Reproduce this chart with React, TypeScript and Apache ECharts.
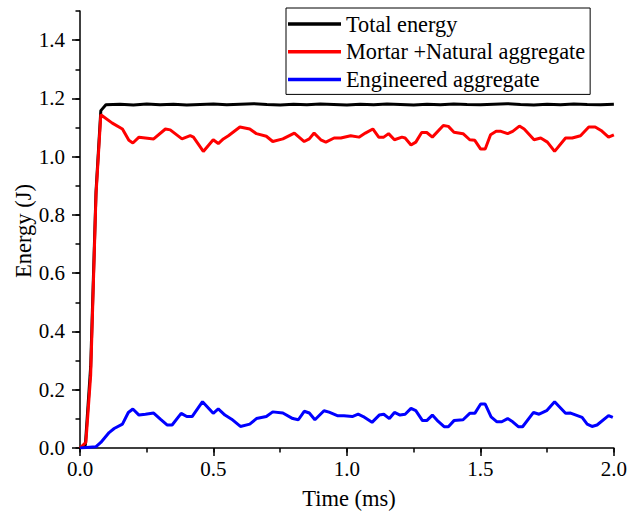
import React, { useEffect, useRef } from "react";
import * as echarts from "echarts";

const seriesNames = ["Total energy", "Mortar +Natural aggregate", "Engineered aggregate"];
const seriesColors = ["#000000", "#ff0000", "#0000ff"];

const totalTime = [0, 0.02, 0.04, 0.06, 0.078, 0.097, 0.15, 0.2, 0.25, 0.3, 0.35, 0.4, 0.45, 0.5, 0.55, 0.6, 0.65, 0.7, 0.75, 0.8, 0.85, 0.9, 0.95, 1.0, 1.05, 1.1, 1.15, 1.2, 1.25, 1.3, 1.35, 1.4, 1.45, 1.5, 1.55, 1.6, 1.65, 1.7, 1.75, 1.8, 1.85, 1.9, 1.95, 2.0];
const totalEnergy = [0, 0.01, 0.28, 0.88, 1.158, 1.178, 1.18, 1.177, 1.181, 1.178, 1.18, 1.177, 1.179, 1.181, 1.178, 1.18, 1.182, 1.179, 1.177, 1.18, 1.178, 1.181, 1.179, 1.177, 1.18, 1.178, 1.181, 1.179, 1.177, 1.18, 1.178, 1.181, 1.179, 1.178, 1.18, 1.182, 1.179, 1.177, 1.18, 1.178, 1.181, 1.179, 1.178, 1.18];

const mortarTime = [0, 0.022, 0.04, 0.06, 0.078, 0.121, 0.159, 0.183, 0.198, 0.221, 0.276, 0.32, 0.338, 0.382, 0.413, 0.425, 0.462, 0.499, 0.518, 0.537, 0.556, 0.599, 0.636, 0.661, 0.698, 0.722, 0.76, 0.803, 0.84, 0.859, 0.877, 0.902, 0.921, 0.952, 0.977, 1.014, 1.045, 1.069, 1.097, 1.119, 1.138, 1.156, 1.178, 1.206, 1.218, 1.24, 1.258, 1.28, 1.299, 1.32, 1.361, 1.38, 1.401, 1.435, 1.46, 1.479, 1.501, 1.518, 1.538, 1.559, 1.577, 1.602, 1.621, 1.646, 1.664, 1.701, 1.726, 1.751, 1.778, 1.819, 1.844, 1.875, 1.906, 1.93, 1.952, 1.98, 2.0];
const mortarEnergy = [0, 0.019, 0.25, 0.87, 1.144, 1.115, 1.095, 1.056, 1.047, 1.067, 1.061, 1.095, 1.092, 1.061, 1.072, 1.067, 1.018, 1.058, 1.045, 1.061, 1.072, 1.102, 1.095, 1.079, 1.07, 1.052, 1.061, 1.081, 1.052, 1.061, 1.081, 1.058, 1.05, 1.064, 1.064, 1.072, 1.067, 1.081, 1.095, 1.067, 1.067, 1.079, 1.058, 1.067, 1.064, 1.04, 1.05, 1.083, 1.083, 1.067, 1.107, 1.104, 1.084, 1.079, 1.058, 1.056, 1.026, 1.026, 1.075, 1.087, 1.087, 1.079, 1.087, 1.105, 1.095, 1.058, 1.064, 1.05, 1.018, 1.064, 1.064, 1.072, 1.102, 1.102, 1.09, 1.067, 1.075];

const engTime = [0, 0.059, 0.078, 0.109, 0.128, 0.159, 0.181, 0.198, 0.221, 0.245, 0.276, 0.301, 0.326, 0.345, 0.379, 0.4, 0.42, 0.459, 0.499, 0.518, 0.543, 0.568, 0.601, 0.636, 0.661, 0.698, 0.722, 0.76, 0.797, 0.818, 0.84, 0.859, 0.88, 0.914, 0.933, 0.964, 0.989, 1.02, 1.042, 1.061, 1.094, 1.121, 1.138, 1.159, 1.178, 1.199, 1.218, 1.24, 1.258, 1.283, 1.299, 1.32, 1.342, 1.364, 1.38, 1.401, 1.435, 1.46, 1.479, 1.501, 1.518, 1.54, 1.562, 1.58, 1.602, 1.621, 1.642, 1.658, 1.699, 1.72, 1.748, 1.778, 1.819, 1.838, 1.881, 1.9, 1.918, 1.937, 1.98, 1.996];
const engEnergy = [0, 0.004, 0.019, 0.053, 0.067, 0.082, 0.122, 0.134, 0.113, 0.116, 0.12, 0.099, 0.079, 0.079, 0.119, 0.108, 0.108, 0.159, 0.119, 0.134, 0.113, 0.099, 0.074, 0.082, 0.101, 0.108, 0.124, 0.12, 0.101, 0.097, 0.126, 0.12, 0.097, 0.128, 0.123, 0.111, 0.111, 0.108, 0.116, 0.108, 0.088, 0.113, 0.116, 0.101, 0.122, 0.113, 0.116, 0.136, 0.128, 0.094, 0.094, 0.113, 0.091, 0.073, 0.073, 0.094, 0.097, 0.119, 0.119, 0.151, 0.151, 0.107, 0.09, 0.09, 0.101, 0.09, 0.073, 0.073, 0.122, 0.116, 0.128, 0.159, 0.119, 0.12, 0.105, 0.082, 0.074, 0.079, 0.111, 0.105];

const yLabels = [0, 0.2, 0.4, 0.6, 0.8, 1.0, 1.2, 1.4];
const xLabels = [0, 0.5, 1.0, 1.5, 2.0];

const FONT = "Liberation Serif";

function pairs(t: number[], v: number[]) {
  return t.map((x, i) => [x, v[i]]);
}

export default function App() {
  const ref = useRef<HTMLDivElement>(null);
  useEffect(() => {
    if (!ref.current) return;
    const chart = echarts.init(ref.current, undefined, { renderer: "svg" });
    const axisLine = { show: true, lineStyle: { color: "#000", width: 1.5 } };
    const datasets = [pairs(totalTime, totalEnergy), pairs(mortarTime, mortarEnergy), pairs(engTime, engEnergy)];
    chart.setOption({
      animation: false,
      backgroundColor: "#fff",
      grid: { left: 80, right: 13, top: 11, bottom: 65, containLabel: false },
      xAxis: [
        {
          type: "value", min: 0, max: 2, interval: 0.5, position: "bottom",
          axisLine,
          axisTick: { show: true, length: 8, customValues: xLabels, lineStyle: { color: "#000", width: 1.5 } },
          axisLabel: { show: true, margin: 10, customValues: xLabels, color: "#000", fontSize: 21, fontFamily: FONT, formatter: (v: number) => v.toFixed(1) },
          splitLine: { show: false },
        },
        {
          type: "value", min: 0, max: 2, interval: 0.25, position: "bottom", offset: 0,
          axisLine: { show: false },
          axisTick: { show: true, length: 4.5, lineStyle: { color: "#000", width: 1.5 } },
          axisLabel: { show: false },
          splitLine: { show: false },
        },
      ],
      yAxis: [
        {
          type: "value", min: 0, max: 1.5, interval: 0.1, position: "left",
          axisLine,
          axisTick: { show: true, length: 8, customValues: yLabels, lineStyle: { color: "#000", width: 1.5 } },
          axisLabel: { show: true, margin: 15, customValues: yLabels, color: "#000", fontSize: 21, fontFamily: FONT, formatter: (v: number) => v.toFixed(1) },
          splitLine: { show: false },
        },
        {
          type: "value", min: 0, max: 1.5, interval: 0.1, position: "left", offset: 0,
          axisLine: { show: false },
          axisTick: { show: true, length: 4.5, lineStyle: { color: "#000", width: 1.5 } },
          axisLabel: { show: false },
          splitLine: { show: false },
        },
      ],
      legend: {
        orient: "vertical",
        left: 286,
        top: 8,
        data: seriesNames,
        icon: "rect",
        itemWidth: 53,
        itemHeight: 3.5,
        itemGap: 5.7,
        padding: [5, 5, 4, 2],
        borderColor: "#000",
        borderWidth: 1,
        backgroundColor: "#fff",
        textStyle: { color: "#000", fontSize: 22.3, lineHeight: 22, fontFamily: FONT },
      },
      graphic: [
        {
          type: "text", x: 23, y: 231, rotation: Math.PI / 2,
          style: { text: "Energy (J)", fill: "#000", fontSize: 22.5, fontFamily: FONT, align: "center", verticalAlign: "middle" },
        },
        {
          type: "text", x: 349, y: 498,
          style: { text: "Time (ms)", fill: "#000", fontSize: 22.5, fontFamily: FONT, align: "center", verticalAlign: "middle" },
        },
      ],
      series: seriesNames.map((name, i) => ({
        name,
        type: "line",
        xAxisIndex: 0,
        yAxisIndex: 0,
        data: datasets[i],
        symbol: "none",
        showSymbol: false,
        color: seriesColors[i],
        lineStyle: { color: seriesColors[i], width: 3 },
        z: 2 + i,
      })),
    });
    return () => chart.dispose();
  }, []);
  return <div ref={ref} style={{ position: "fixed", left: 0, top: 0, width: 630, height: 513 }} />;
}
